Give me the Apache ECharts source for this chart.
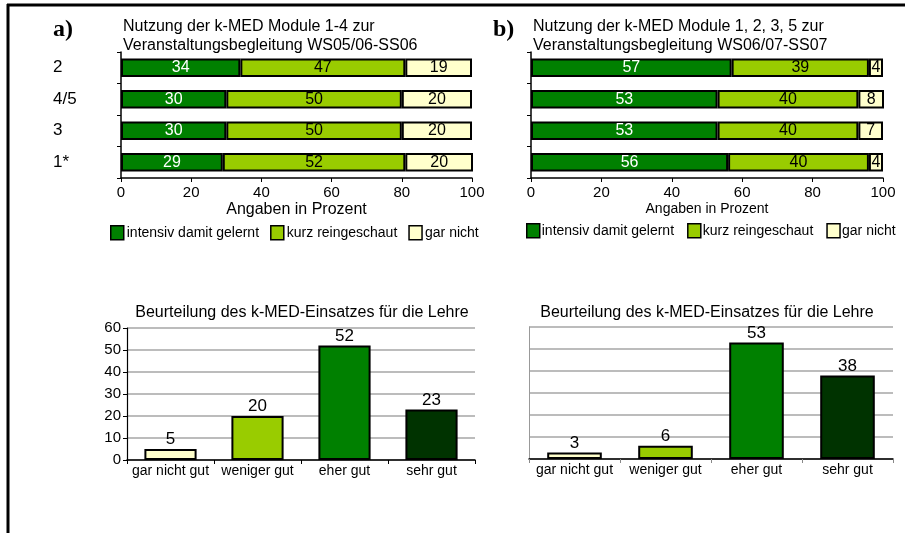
<!DOCTYPE html>
<html>
<head>
<meta charset="utf-8">
<script src="https://cdn.jsdelivr.net/npm/echarts@6/dist/echarts.min.js"></script>
<style>
  html, body { margin: 0; padding: 0; background: #fff; }
  #main { width: 905px; height: 533px; }
</style>
</head>
<body>
<div id="main"></div>
<script>
// Nutzung - Kategorien (Module)
var moduleA = ['2', '4/5', '3', '1*']
var moduleB = ['', '', '', '']
var legendNames = ['intensiv damit gelernt', 'kurz reingeschaut', 'gar nicht']

// a) WS05/06-SS06
var intensivA = [34, 30, 30, 29]
var kurzA = [47, 50, 50, 52]
var garA = [19, 20, 20, 20]

// b) WS06/07-SS07
var intensivB = [57, 53, 53, 56]
var kurzB = [39, 40, 40, 40]
var garB = [4, 8, 7, 4]

// Beurteilung
var urteilCats = ['gar nicht gut', 'weniger gut', 'eher gut', 'sehr gut']
var urteilA = [5, 20, 52, 23]
var urteilB = [3, 6, 53, 38]

var pctTicks = [0, 20, 40, 60, 80, 100]

var FONT = '"Liberation Sans", Arial, sans-serif'
var colStack = ['#008000', '#99cc00', '#ffffcc']
var colUrteil = ['#ffffcc', '#99cc00', '#008000', '#003300']

var chart = echarts.init(document.getElementById('main'))

function stackSeries(idx, name, data, color, labelColor) {
    return {
        name: name,
        type: 'bar',
        stack: 'st' + idx,
        xAxisIndex: idx,
        yAxisIndex: idx,
        barCategoryGap: '42%',
        data: data,
        itemStyle: { color: color, borderColor: '#000', borderWidth: 2 },
        label: {
            show: true,
            position: 'inside',
            color: labelColor,
            fontFamily: FONT,
            fontSize: 16
        },
        emphasis: { disabled: true }
    }
}

function urteilSeries(idx, data) {
    return {
        type: 'bar',
        xAxisIndex: idx,
        yAxisIndex: idx,
        barCategoryGap: '40%',
        data: data.map(function (v, i) {
            return { value: v, itemStyle: { color: colUrteil[i] } }
        }),
        itemStyle: { borderColor: '#000', borderWidth: 2 },
        label: {
            show: true,
            position: 'top',
            distance: 1,
            color: '#000',
            fontFamily: FONT,
            fontSize: 17
        },
        emphasis: { disabled: true }
    }
}

function pctAxis(idx, nameSize) {
    return {
        type: 'value',
        gridIndex: idx,
        min: 0,
        max: 100,
        interval: 20,
        name: 'Angaben in Prozent',
        nameLocation: 'middle',
        nameGap: 24,
        nameTextStyle: { color: '#000', fontFamily: FONT, fontSize: nameSize },
        axisLine: { show: true, lineStyle: { color: '#000', width: 1.5 } },
        axisTick: { show: true, length: 4, lineStyle: { color: '#000' } },
        axisLabel: {
            color: '#000', fontFamily: FONT, fontSize: 15, margin: 7,
            formatter: function (v) { return pctTicks.indexOf(v) >= 0 ? String(v) : '' }
        },
        splitLine: { show: false }
    }
}

function catAxis(idx, cats, showLabel) {
    return {
        type: 'category',
        gridIndex: idx,
        data: cats,
        inverse: true,
        axisLine: { show: true, lineStyle: { color: '#000', width: 1.5 } },
        axisTick: { show: true, length: 4, lineStyle: { color: '#000' } },
        axisLabel: {
            show: showLabel,
            interval: 0,
            align: 'left',
            margin: 68,
            color: '#000',
            fontFamily: FONT,
            fontSize: 17
        }
    }
}

function urteilXAxis(idx, tickColor) {
    return {
        type: 'category', gridIndex: idx, data: urteilCats,
        axisLine: { show: true, lineStyle: { color: '#000', width: 1.5 } },
        axisTick: { show: true, length: 4, lineStyle: { color: tickColor } },
        axisLabel: { interval: 0, color: '#000', fontFamily: FONT, fontSize: 14, margin: 4 }
    }
}

var option = {
    animation: false,
    backgroundColor: '#fff',
    title: [
        {
            text: 'Nutzung der k-MED Module 1-4 zur\nVeranstaltungsbegleitung WS05/06-SS06',
            left: 118, top: 12,
            textStyle: { color: '#000', fontFamily: FONT, fontSize: 16, fontWeight: 'normal', lineHeight: 19 }
        },
        {
            text: 'Nutzung der k-MED Module 1, 2, 3, 5 zur\nVeranstaltungsbegleitung WS06/07-SS07',
            left: 528, top: 12,
            textStyle: { color: '#000', fontFamily: FONT, fontSize: 16, fontWeight: 'normal', lineHeight: 19 }
        },
        {
            text: 'Beurteilung des k-MED-Einsatzes für die Lehre',
            left: 297, top: 300, textAlign: 'center',
            textStyle: { color: '#000', fontFamily: FONT, fontSize: 16, fontWeight: 'normal' }
        },
        {
            text: 'Beurteilung des k-MED-Einsatzes für die Lehre',
            left: 702, top: 300, textAlign: 'center',
            textStyle: { color: '#000', fontFamily: FONT, fontSize: 16, fontWeight: 'normal' }
        },
        {
            text: 'a)', left: 48, top: 13,
            textStyle: { color: '#000', fontFamily: '"Liberation Serif", "Times New Roman", serif', fontSize: 24, fontWeight: 'bold' }
        },
        {
            text: 'b)', left: 488, top: 13,
            textStyle: { color: '#000', fontFamily: '"Liberation Serif", "Times New Roman", serif', fontSize: 24, fontWeight: 'bold' }
        }
    ],
    legend: [
        {
            data: legendNames,
            left: 110, top: 225, width: 390, padding: 0,
            icon: 'rect', itemWidth: 13, itemHeight: 14, itemGap: 11,
            selectedMode: false,
            itemStyle: { borderColor: '#000', borderWidth: 1.5 },
            textStyle: { color: '#000', fontFamily: FONT, fontSize: 14, padding: [0, 0, 0, -2] }
        },
        {
            data: legendNames,
            left: 526, top: 223, width: 379, padding: 0,
            icon: 'rect', itemWidth: 13, itemHeight: 14, itemGap: 13,
            selectedMode: false,
            itemStyle: { borderColor: '#000', borderWidth: 1.5 },
            textStyle: { color: '#000', fontFamily: FONT, fontSize: 14, padding: [0, 0, 0, -3] }
        }
    ],
    grid: [
        { left: 121, top: 52, width: 351, height: 126 },
        { left: 531, top: 52, width: 352, height: 126 },
        { left: 127, top: 328, width: 348, height: 132 },
        { left: 529, top: 327, width: 364, height: 132 }
    ],
    xAxis: [
        pctAxis(0, 16),
        pctAxis(1, 14),
        urteilXAxis(2, '#000'),
        urteilXAxis(3, '#888')
    ],
    yAxis: [
        catAxis(0, moduleA, true),
        catAxis(1, moduleB, false),
        {
            type: 'value', gridIndex: 2, min: 0, max: 60, interval: 10,
            axisLine: { show: true, lineStyle: { color: '#000', width: 1.2 } },
            axisTick: { show: true, length: 4, lineStyle: { color: '#000' } },
            axisLabel: { color: '#000', fontFamily: FONT, fontSize: 15, margin: 6 },
            splitLine: { show: true, lineStyle: { color: '#a6a6a6', width: 1.5 } }
        },
        {
            type: 'value', gridIndex: 3, min: 0, max: 60, interval: 10,
            axisLine: { show: true, lineStyle: { color: '#999', width: 1 } },
            axisTick: { show: false },
            axisLabel: { show: false },
            splitLine: { show: true, lineStyle: { color: '#a6a6a6', width: 1.5 } }
        }
    ],
    series: [
        stackSeries(0, legendNames[0], intensivA, colStack[0], '#fff'),
        stackSeries(0, legendNames[1], kurzA, colStack[1], '#000'),
        stackSeries(0, legendNames[2], garA, colStack[2], '#000'),
        stackSeries(1, legendNames[0], intensivB, colStack[0], '#fff'),
        stackSeries(1, legendNames[1], kurzB, colStack[1], '#000'),
        stackSeries(1, legendNames[2], garB, colStack[2], '#000'),
        urteilSeries(2, urteilA),
        urteilSeries(3, urteilB)
    ],
    graphic: [
        // Rahmen oben und links
        { type: 'line', shape: { x1: 7, y1: 5, x2: 905, y2: 5 }, style: { stroke: '#000', lineWidth: 3 } },
        { type: 'line', shape: { x1: 8, y1: 4, x2: 8, y2: 533 }, style: { stroke: '#000', lineWidth: 3 } }
    ]
}

chart.setOption(option)
</script>
</body>
</html>
